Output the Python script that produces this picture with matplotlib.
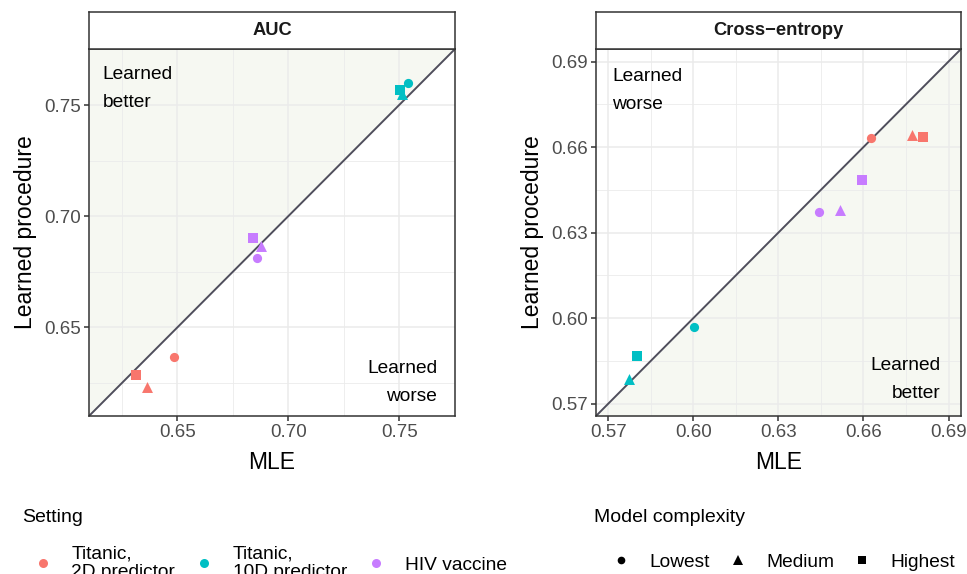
import matplotlib
matplotlib.use("Agg")
import matplotlib.pyplot as plt
from matplotlib.lines import Line2D
from matplotlib.ticker import MultipleLocator

plt.rcParams['font.family'] = ['Liberation Sans', 'DejaVu Sans']

# data
settings = ["Titanic,\n2D predictor", "Titanic,\n10D predictor", "HIV vaccine"]
setting_colors = ["#F8766D", "#00BFC4", "#C77CFF"]
complexities = ["Lowest", "Medium", "Highest"]
complexity_markers = ["o", "^", "s"]
marker_sizes = [44, 62, 44]

# rows = setting, columns = complexity (Lowest, Medium, Highest)
auc_mle = [[0.6486, 0.6364, 0.6315],
           [0.7541, 0.7515, 0.7503],
           [0.6859, 0.6877, 0.6842]]
auc_learned = [[0.6366, 0.6231, 0.6287],
               [0.7599, 0.7550, 0.7569],
               [0.6814, 0.6868, 0.6901]]
ce_mle = [[0.6626, 0.6771, 0.6811],
          [0.6001, 0.5772, 0.5802],
          [0.6444, 0.6516, 0.6595]]
ce_learned = [[0.6631, 0.6643, 0.6634],
              [0.5969, 0.5785, 0.5867],
              [0.6374, 0.6380, 0.6485]]

auc_lim = (0.6101, 0.7752)
ce_lim = (0.5657, 0.6944)

W, H = 967, 574
fig = plt.figure(figsize=(W / 100, H / 100), dpi=100)

shade = "#F6F8F2"
diag_col = "#4F4E5C"
border = "#333333"


def px_axes(x0, y0, x1, y1):
    return fig.add_axes([x0 / W, 1 - y1 / H, (x1 - x0) / W, (y1 - y0) / H])


def panel(ax, mle, learned, lim, major, minor, shade_above, title, strip_box,
          notes):
    lo, hi = lim
    ax.set_xlim(lo, hi)
    ax.set_ylim(lo, hi)
    if shade_above:
        ax.fill_between([lo, hi], [lo, hi], [hi, hi], color=shade, lw=0, zorder=0.5)
    else:
        ax.fill_between([lo, hi], [lo, lo], [lo, hi], color=shade, lw=0, zorder=0.5)
    for a in (ax.xaxis, ax.yaxis):
        a.set_major_locator(MultipleLocator(major))
        a.set_minor_locator(MultipleLocator(minor))
    ax.grid(which="major", color="#EBEBEB", lw=1.1, zorder=0.6)
    ax.grid(which="minor", color="#EBEBEB", lw=0.6, zorder=0.6)
    ax.set_axisbelow(True)
    ax.tick_params(which="major", length=3.5, width=1.1, color=border,
                   labelsize=13.5, labelcolor="#4D4D4D", pad=2.5)
    ax.tick_params(which="minor", length=0)
    ax.xaxis.set_major_formatter(matplotlib.ticker.FormatStrFormatter("%.2f"))
    ax.yaxis.set_major_formatter(matplotlib.ticker.FormatStrFormatter("%.2f"))
    for s in ax.spines.values():
        s.set_color(border)
        s.set_linewidth(1.1)
    ax.plot([lo, hi], [lo, hi], color=diag_col, lw=1.4, zorder=2)
    for i, col in enumerate(setting_colors):
        for j, mk in enumerate(complexity_markers):
            ax.scatter(mle[i][j], learned[i][j], marker=mk, s=marker_sizes[j],
                       color=col, lw=0, zorder=3)
    ax.set_xlabel("MLE", fontsize=16.5, labelpad=7)
    ax.set_ylabel("Learned procedure", fontsize=16.5, labelpad=5)
    for (tx, ty, txt, ha) in notes:
        ax.text(tx, ty, txt, ha=ha, va="center", fontsize=13.8,
                linespacing=1.85, multialignment=ha, zorder=4)
    sx = px_axes(*strip_box)
    sx.set_xticks([])
    sx.set_yticks([])
    for s in sx.spines.values():
        s.set_color(border)
        s.set_linewidth(1.1)
    sx.text(0.5, 0.5, title, ha="center", va="center", fontsize=13.2,
            fontweight="bold", color="#1A1A1A", transform=sx.transAxes)


ax1 = px_axes(89, 49, 455, 416)
panel(ax1, auc_mle, auc_learned, auc_lim, 0.05, 0.025, True, "AUC",
      (89, 12, 455, 49),
      [(0.6162, 0.7573, "Learned\nbetter", "left"),
       (0.7671, 0.6252, "Learned\nworse", "right")])

ax2 = px_axes(596, 49, 961, 416)
panel(ax2, ce_mle, ce_learned, ce_lim, 0.03, 0.015, False, "Cross\u2212entropy",
      (596, 12, 961, 49),
      [(0.5715, 0.6797, "Learned\nworse", "left"),
       (0.6872, 0.5784, "Learned\nbetter", "right")])

# legends
fig.text(22 / W, 1 - 517 / H, "Setting", fontsize=14, va="center", ha="left")
fig.text(594 / W, 1 - 517 / H, "Model complexity", fontsize=14, va="center",
         ha="left")

set_handles = [Line2D([], [], ls="", marker="o", ms=6.5, color=c, mew=0)
               for c in setting_colors]
leg1 = fig.legend(set_handles, settings, loc="center left",
                  bbox_to_anchor=(33 / W, 1 - 563 / H), frameon=False,
                  ncol=3, fontsize=13.8, handlelength=1.0, handletextpad=1.0,
                  columnspacing=1.0, borderpad=0, borderaxespad=0)
for t in leg1.get_texts():
    t.set_linespacing(1.1)

cx_sizes = [5.5, 7.0, 5.5]
cx_handles = [Line2D([], [], ls="", marker=m, ms=ms, color="black", mew=0)
              for m, ms in zip(complexity_markers, cx_sizes)]
leg2 = fig.legend(cx_handles, complexities, loc="center left",
                  bbox_to_anchor=(611 / W, 1 - 562 / H), frameon=False,
                  ncol=3, fontsize=13.8, handlelength=1.0, handletextpad=1.0,
                  columnspacing=0.95, borderpad=0, borderaxespad=0)

fig.savefig("out.png", dpi=100)
